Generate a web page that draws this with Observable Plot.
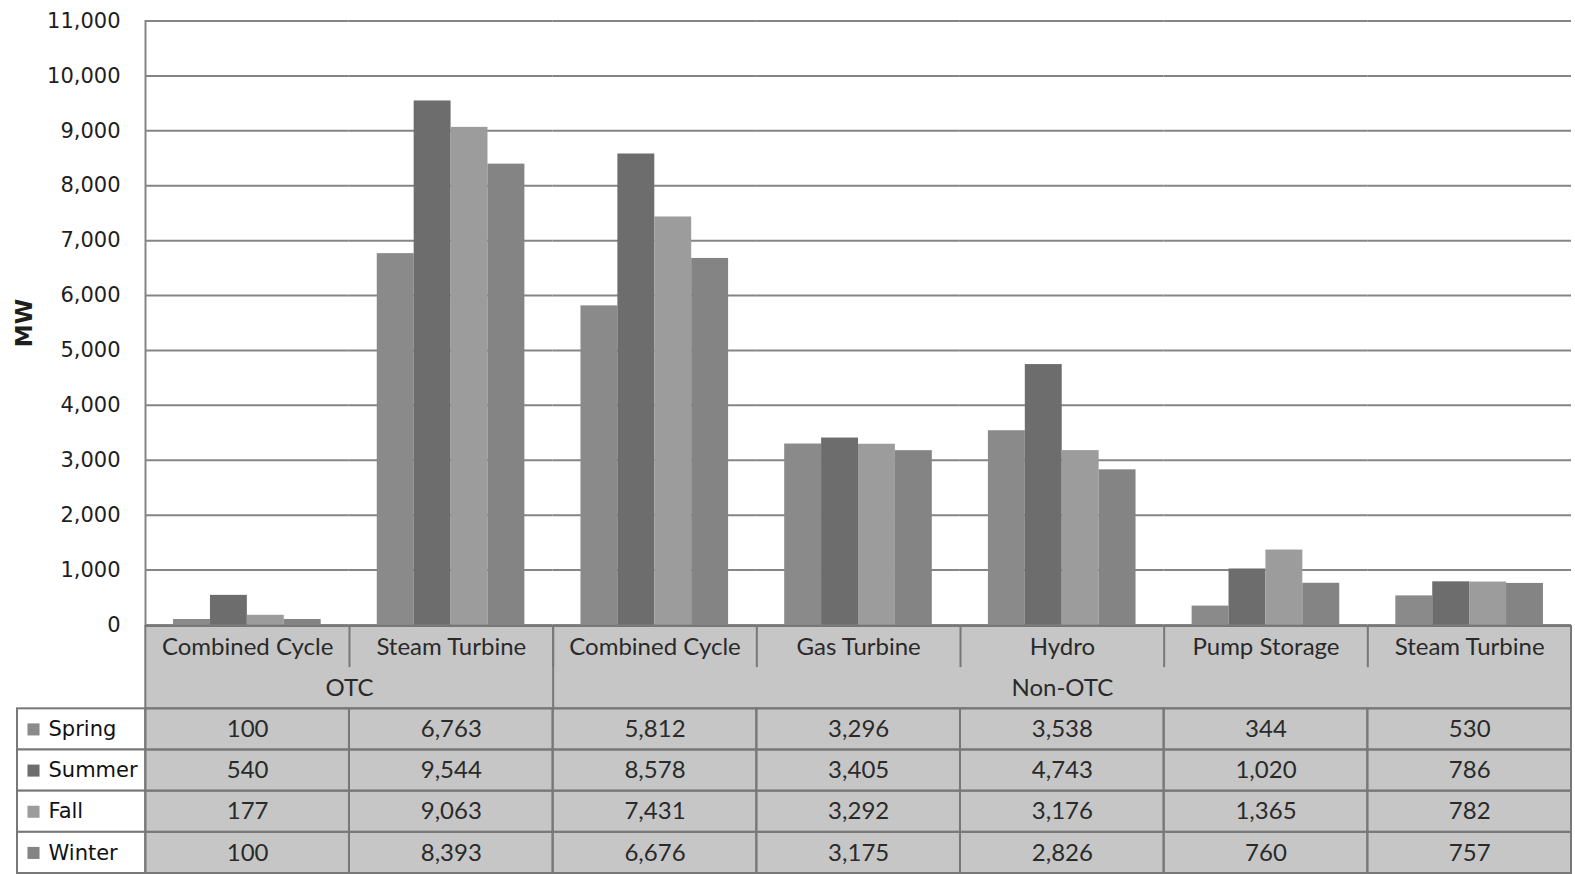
<!DOCTYPE html>
<html>
<head>
<meta charset="utf-8">
<script src="https://cdn.jsdelivr.net/npm/d3@7"></script>
<script src="https://cdn.jsdelivr.net/npm/@observablehq/plot@0.6"></script>
<style>
  body { margin: 0; background: #fff; }
  #chart svg { display: block; }
</style>
</head>
<body>
<div id="chart"></div>
<script>
// Seasonal capacity (MW) by cooling type and technology
const groups = ["OTC", "Non-OTC"];
const groupOf = ["OTC", "OTC", "Non-OTC", "Non-OTC", "Non-OTC", "Non-OTC", "Non-OTC"];
const technologies = ["Combined Cycle", "Steam Turbine", "Combined Cycle", "Gas Turbine", "Hydro", "Pump Storage", "Steam Turbine"];
const seasons = ["Spring", "Summer", "Fall", "Winter"];
const spring = [100, 6763, 5812, 3296, 3538, 344, 530];
const summer = [540, 9544, 8578, 3405, 4743, 1020, 786];
const fall   = [177, 9063, 7431, 3292, 3176, 1365, 782];
const winter = [100, 8393, 6676, 3175, 2826, 760, 757];
const yTicks = [0, 1000, 2000, 3000, 4000, 5000, 6000, 7000, 8000, 9000, 10000, 11000];
const yLabel = "MW";

const seasonColors = ["#8a8a8a", "#6d6d6d", "#9c9c9c", "#848484"];
const lineColor = "#858585";
const tableFill = "#c6c6c6";
const tableLine = "#787878";
const numFmt = d3.format(",");
const labelSize = 21;

const W = 1575;
const keys = technologies.map((t, i) => `${groupOf[i]}|${t}`);
const seriesBySeason = [spring, summer, fall, winter];
const bars = [];
seriesBySeason.forEach((vals, s) => {
  vals.forEach((v, i) => bars.push({key: keys[i], season: seasons[s], value: v}));
});

const chart = Plot.plot({
  width: W,
  height: 625,
  marginLeft: 145,
  marginRight: 4,
  marginTop: 20.5,
  marginBottom: 0.5,
  style: {fontFamily: "DejaVu Sans", fontSize: `${labelSize}px`, color: "#1e1e1e", background: "transparent", overflow: "visible"},
  fx: {domain: keys, padding: 0, round: false, axis: null},
  x: {domain: seasons, paddingInner: 0, paddingOuter: 0.76, round: false, axis: null},
  y: {domain: [0, 11000], axis: null},
  color: {domain: seasons, range: seasonColors},
  marks: [
    Plot.gridY(yTicks, {stroke: lineColor, strokeOpacity: 1, strokeWidth: 2}),
    Plot.barY(bars, {fx: "key", x: "season", y: "value", fill: "season"}),
    Plot.frame({anchor: "left", stroke: lineColor, strokeWidth: 2, facetAnchor: "left"}),
    Plot.axisY(yTicks, {tickSize: 0, tickPadding: 25, tickFormat: numFmt, label: null, fontSize: labelSize, facetAnchor: "left"}),
    Plot.text([yLabel], {frameAnchor: "left", textAnchor: "middle", dx: -121, rotate: -90, fontWeight: "bold", fontSize: 23, facetAnchor: "left"})
  ]
});

// Data table beneath the bars: columns line up with the category facets
const nCols = technologies.length;
const legendSpan = 0.63;
const headerRows = 2;
const nRows = headerRows + seasons.length;

const techCells = technologies.map((t, i) => ({col: i, label: t}));
const groupSpans = groups.map(g => {
  const idx = groupOf.map((d, i) => d === g ? i : -1).filter(i => i >= 0);
  return {label: g, start: d3.min(idx), end: d3.max(idx) + 1};
});
const valueCells = [];
seriesBySeason.forEach((vals, s) => {
  vals.forEach((v, i) => valueCells.push({col: i, row: headerRows + s, value: v}));
});
const legendRows = seasons.map((s, i) => ({season: s, row: headerRows + i}));
const techSeparators = d3.range(1, nCols);
const groupBoundaries = groupSpans.slice(1).map(g => g.start);

const tableFont = "Lato";
const tableText = "#2a2a2a";
const table = Plot.plot({
  width: W,
  height: 249,
  marginLeft: 17,
  marginRight: 4,
  marginTop: 1,
  marginBottom: 1,
  style: {fontFamily: "DejaVu Sans", fontSize: `${labelSize}px`, color: "#1e1e1e", background: "transparent", overflow: "visible"},
  x: {domain: [-legendSpan, nCols], axis: null},
  y: {domain: [0, nRows], reverse: true, axis: null},
  color: {domain: seasons, range: seasonColors},
  marks: [
    // shaded body of the table
    Plot.rect([nCols], {x1: 0, x2: d => d, y1: 0, y2: nRows, fill: tableFill}),
    // legend column
    Plot.rect(legendRows, {x1: -legendSpan, x2: 0, y1: "row", y2: d => d.row + 1, fill: "#fff", stroke: tableLine, strokeWidth: 2}),
    // value cells
    Plot.rect(valueCells, {x1: "col", x2: d => d.col + 1, y1: "row", y2: d => d.row + 1, fill: "none", stroke: tableLine, strokeWidth: 2}),
    // header block
    Plot.rect([headerRows], {x1: 0, x2: nCols, y1: 0, y2: d => d, fill: "none", stroke: tableLine, strokeWidth: 2}),
    Plot.ruleX(techSeparators, {x: d => d, y1: 0, y2: 1, stroke: tableLine, strokeWidth: 2}),
    Plot.ruleX(groupBoundaries, {x: d => d, y1: 0, y2: headerRows, stroke: tableLine, strokeWidth: 2}),
    // header labels
    Plot.text(techCells, {x: d => d.col + 0.5, y: 0.5, text: "label", fontFamily: tableFont, fontSize: 24, fill: tableText}),
    Plot.text(groupSpans, {x: d => (d.start + d.end) / 2, y: 1.5, text: "label", fontFamily: tableFont, fontSize: 24, fill: tableText}),
    // values
    Plot.text(valueCells, {x: d => d.col + 0.5, y: d => d.row + 0.5, text: d => numFmt(d.value), fontFamily: tableFont, fontSize: 24, fill: tableText}),
    // legend keys
    Plot.dot(legendRows, {x: -legendSpan, y: d => d.row + 0.5, dx: 16, symbol: "square", r: 6.8, fill: "season", stroke: "none"}),
    Plot.text(legendRows, {x: -legendSpan, y: d => d.row + 0.5, dx: 31, text: "season", textAnchor: "start", fontSize: labelSize, fill: "#111"})
  ]
});

const root = document.getElementById("chart");
root.appendChild(chart);
root.appendChild(table);
</script>
</body>
</html>
